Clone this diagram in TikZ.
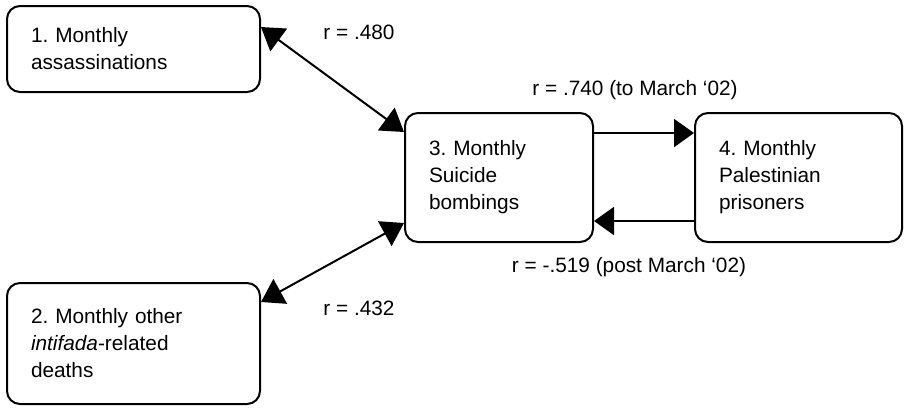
\documentclass[tikz,border=0pt]{standalone}
\usepackage{fontspec}
\setmainfont{Liberation Sans}
\usetikzlibrary{arrows.meta}
\frenchspacing

\tikzset{
    varbox/.style={draw, line width=1pt, rounded corners=6.5pt, align=left,
        inner xsep=12pt, minimum height=#1},
    corr/.style={line width=1pt, {Triangle[length=11pt,width=14pt]}-{Triangle[length=11pt,width=14pt]}},
    oneway/.style={line width=1pt, -{Triangle[length=10pt,width=14pt]}},
    rlabel/.style={inner sep=0pt},
}

\begin{document}
\begin{tikzpicture}[x=0.5pt, y=-0.5pt, font=\fontsize{10.4}{13.5}\selectfont]
\useasboundingbox (0,0) rectangle (908,409);

% variables
\node [varbox=43pt, text width=102.5pt] (assass) at (133.5,49)
    {1. Monthly\\assassinations};
\node [varbox=60.5pt, text width=102.5pt] (deaths) at (133.5,343.5)
    {2. Monthly other\\\textit{intifada}-related\\deaths};
\node [varbox=64.5pt, text width=70pt] (suicide) at (499,177.5)
    {3. Monthly\\Suicide\\bombings};
\node [varbox=64.5pt, text width=79.5pt] (prison) at (798.5,177.5)
    {4. Monthly\\Palestinian\\prisoners};

% correlations
\draw [corr] ([yshift=-11pt]assass.north east) -- ([yshift=-10pt]suicide.north west);
\draw [corr] ([yshift=-10pt]deaths.north east) -- ([yshift=10pt]suicide.south west);
\draw [oneway] ([yshift=-10.5pt]suicide.north east) -- ([yshift=-10.5pt]prison.north west);
\draw [oneway] ([yshift=11pt]prison.south west) -- ([yshift=11pt]suicide.south east);

% labels
\node [rlabel] (r13) at (359,32) {r = .480};
\node [rlabel] (r23) at (359,308) {r = .432};
\node [rlabel] (r34) at (635,90) {r = .740 (to March ‘02)};
\node [rlabel] (r43) at (629,267) {r = -.519 (post March ‘02)};
\end{tikzpicture}
\end{document}
